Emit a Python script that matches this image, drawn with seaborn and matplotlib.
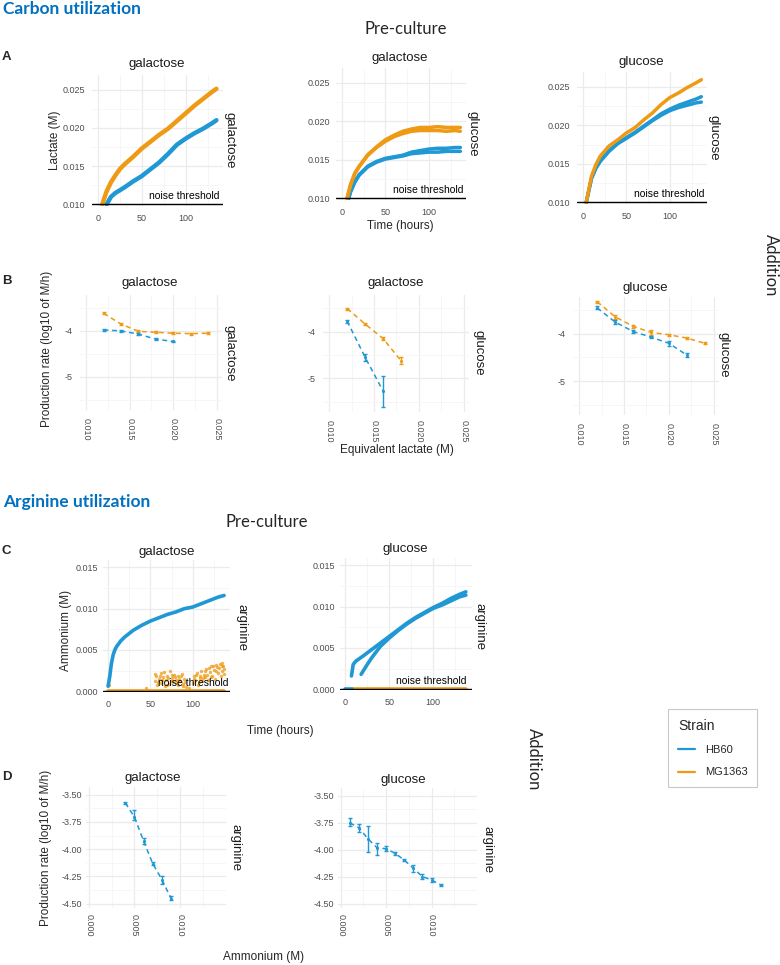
import numpy as np
import pandas as pd
import matplotlib
matplotlib.use("Agg")
import matplotlib.pyplot as plt
import seaborn as sns
from matplotlib.ticker import FixedLocator, FormatStrFormatter
from matplotlib.lines import Line2D

# ---------------- data ----------------
STRAINS = ["HB60", "MG1363"]
BLUE = "#1F98D4"
ORANGE = "#EE9A14"
PALETTE = {"HB60": BLUE, "MG1363": ORANGE}

# Panel A1: pre-culture galactose, addition galactose
a1_mg_t = [5, 10, 15, 20, 25, 30, 40, 50, 60, 70, 80, 90, 100, 110, 120, 130, 135]
a1_mg_v = [0.0100, 0.0117, 0.0129, 0.0138, 0.0146, 0.0152, 0.0162, 0.0173, 0.0182, 0.0191,
           0.0199, 0.0209, 0.0219, 0.0229, 0.0238, 0.0247, 0.0251]
a1_hb_t = [10, 15, 20, 30, 40, 50, 60, 70, 80, 90, 100, 110, 120, 130, 135]
a1_hb_v = [0.0100, 0.0110, 0.0115, 0.0122, 0.0130, 0.0137, 0.0146, 0.0155, 0.0166, 0.0178,
           0.0186, 0.0193, 0.0199, 0.0206, 0.0210]

# Panel A2: pre-culture galactose, addition glucose
a2_mg_t = [6, 10, 15, 20, 30, 40, 50, 60, 70, 80, 90, 100, 110, 120, 130, 136]
a2_mg_v1 = [0.0100, 0.0118, 0.0133, 0.0142, 0.0157, 0.0167, 0.0176, 0.0182, 0.0187, 0.0190,
            0.0192, 0.0192, 0.0193, 0.0192, 0.0192, 0.0192]
a2_mg_v2 = [0.0100, 0.0117, 0.0132, 0.0141, 0.0156, 0.0166, 0.0174, 0.0180, 0.0184, 0.0187,
            0.0188, 0.0188, 0.0188, 0.0187, 0.0188, 0.0187]
a2_hb_t = [8, 10, 15, 20, 30, 40, 50, 60, 70, 80, 90, 100, 110, 120, 130, 136]
a2_hb_v1 = [0.0100, 0.0109, 0.0122, 0.0131, 0.0142, 0.0148, 0.0152, 0.0154, 0.0156, 0.0160,
            0.0162, 0.0164, 0.0165, 0.0165, 0.0166, 0.0166]
a2_hb_v2 = [0.0100, 0.0108, 0.0121, 0.0130, 0.0141, 0.0147, 0.0151, 0.0153, 0.0155, 0.0158,
            0.0159, 0.0160, 0.0160, 0.0161, 0.0161, 0.0161]

# Panel A3: pre-culture glucose, addition glucose
a3_t = [4, 10, 15, 20, 30, 40, 50, 60, 70, 80, 90, 100, 110, 120, 130, 136]
a3_mg_v = [0.0100, 0.0134, 0.0149, 0.0160, 0.0173, 0.0181, 0.0190, 0.0197, 0.0207, 0.0216,
           0.0227, 0.0236, 0.0242, 0.0249, 0.0255, 0.0259]
a3_hb_v1 = [0.0100, 0.0131, 0.0144, 0.0153, 0.0166, 0.0176, 0.0183, 0.0190, 0.0198, 0.0206,
            0.0213, 0.0219, 0.0223, 0.0226, 0.0229, 0.0230]
a3_hb_v2 = [0.0100, 0.0131, 0.0145, 0.0154, 0.0167, 0.0177, 0.0184, 0.0191, 0.0199, 0.0207,
            0.0215, 0.0221, 0.0226, 0.0230, 0.0234, 0.0237]

# Panel B: production rate vs equivalent lactate (mean, low, high)
b_x_mg = [0.012, 0.014, 0.016, 0.018, 0.020, 0.022, 0.024]
b_x_hb = [0.012, 0.014, 0.016, 0.018, 0.020, 0.022]
b1_mg_y = [-3.62, -3.85, -4.01, -4.03, -4.05, -4.06, -4.05]
b1_mg_lo = [-3.64, -3.87, -4.03, -4.05, -4.07, -4.08, -4.07]
b1_mg_hi = [-3.60, -3.83, -3.99, -4.01, -4.03, -4.04, -4.03]
b1_hb_y = [-3.98, -4.00, -4.07, -4.18, -4.23]
b1_hb_lo = [-4.00, -4.02, -4.09, -4.20, -4.25]
b1_hb_hi = [-3.96, -3.98, -4.05, -4.16, -4.21]
b2_mg_y = [-3.51, -3.84, -4.15, -4.62]
b2_mg_lo = [-3.53, -3.87, -4.19, -4.70]
b2_mg_hi = [-3.49, -3.81, -4.11, -4.55]
b2_hb_y = [-3.78, -4.55, -5.27]
b2_hb_lo = [-3.81, -4.63, -5.61]
b2_hb_hi = [-3.75, -4.47, -4.96]
b3_mg_y = [-3.32, -3.64, -3.84, -3.97, -4.02, -4.09, -4.20]
b3_mg_lo = [-3.34, -3.68, -3.87, -4.02, -4.04, -4.11, -4.22]
b3_mg_hi = [-3.30, -3.60, -3.81, -3.92, -4.00, -4.07, -4.18]
b3_hb_y = [-3.45, -3.75, -3.95, -4.07, -4.20, -4.45]
b3_hb_lo = [-3.48, -3.79, -3.98, -4.09, -4.25, -4.50]
b3_hb_hi = [-3.42, -3.71, -3.92, -4.05, -4.15, -4.40]

# Panel C1: pre-culture galactose, addition arginine
c1_hb_t = [0, 2, 4, 6, 8, 10, 15, 20, 30, 40, 50, 60, 70, 80, 90, 100, 110, 120, 130, 137]
c1_hb_v = [0.0006, 0.0018, 0.0034, 0.0044, 0.0050, 0.0054, 0.0061, 0.0066, 0.0074, 0.0080,
           0.0085, 0.0089, 0.0093, 0.0096, 0.0100, 0.0102, 0.0106, 0.0110, 0.0114, 0.0116]
c1_mg_line_t = [0, 137]
c1_mg_line_v = [0.0, 0.0]
c1_mg_pts_t = [1, 45, 55, 57, 58, 60, 62, 63, 65, 67, 68, 70, 72, 73, 75, 77, 78, 80, 82, 83,
               85, 87, 88, 90, 92, 96, 100, 101, 103, 105, 106, 108, 110, 111, 113, 115, 116,
               118, 120, 121, 123, 125, 126, 128, 130, 131, 133, 134, 135, 136, 137,
               56, 59, 61, 64, 66, 69, 71, 74, 76, 79, 81, 84, 86, 89, 91, 102, 104, 107, 109,
               112, 114, 117, 119, 122, 124, 127, 129, 132, 135, 137]
c1_mg_pts_v = [0.0008, 0.0004, 0.0012, 0.0018, 0.0008, 0.0015, 0.0022, 0.0010, 0.0017, 0.0006,
               0.0013, 0.0019, 0.0009, 0.0024, 0.0016, 0.0011, 0.0020, 0.0014, 0.0007, 0.0018,
               0.0012, 0.0021, 0.0009, 0.0015, 0.0005, 0.0004, 0.0010, 0.0018, 0.0013, 0.0022,
               0.0008, 0.0016, 0.0025, 0.0012, 0.0020, 0.0017, 0.0027, 0.0014, 0.0023, 0.0030,
               0.0019, 0.0026, 0.0015, 0.0032, 0.0022, 0.0028, 0.0018, 0.0034, 0.0025, 0.0030,
               0.0021,
               0.0021, 0.0011, 0.0019, 0.0014, 0.0023, 0.0008, 0.0016, 0.0012, 0.0020, 0.0017,
               0.0010, 0.0015, 0.0019, 0.0006, 0.0011, 0.0015, 0.0020, 0.0011, 0.0019, 0.0016,
               0.0024, 0.0020, 0.0028, 0.0017, 0.0030, 0.0024, 0.0029, 0.0033, 0.0031, 0.0027]

# Panel C2: pre-culture glucose, addition arginine
c2_hb_t1 = [7, 9, 12, 20, 30, 40, 50, 60, 70, 80, 90, 100, 110, 120, 130, 137]
c2_hb_v1 = [0.0016, 0.0030, 0.0034, 0.0040, 0.0048, 0.0056, 0.0064, 0.0072, 0.0080, 0.0087,
            0.0093, 0.0099, 0.0104, 0.0110, 0.0115, 0.0118]
c2_hb_t2 = [18, 25, 30, 40, 50, 60, 70, 80, 90, 100, 110, 120, 130, 137]
c2_hb_v2 = [0.0018, 0.0030, 0.0038, 0.0052, 0.0062, 0.0071, 0.0079, 0.0086, 0.0092, 0.0098,
            0.0102, 0.0107, 0.0112, 0.0114]
c2_hb_zero_t = [0, 8]
c2_hb_zero_v = [0.0, 0.0]
c2_mg_line_t = [8, 137]
c2_mg_line_v = [0.0, 0.0]

# Panel D: production rate vs ammonium (HB60 only)
d1_x = [0.004, 0.005, 0.006, 0.007, 0.008, 0.009]
d1_y = [-3.576, -3.707, -3.927, -4.134, -4.280, -4.454]
d1_lo = [-3.588, -3.732, -3.951, -4.149, -4.317, -4.470]
d1_hi = [-3.564, -3.640, -3.896, -4.119, -4.250, -4.433]
d2_x = [0.001, 0.002, 0.003, 0.004, 0.005, 0.006, 0.007, 0.008, 0.009, 0.010, 0.011]
d2_y = [-3.752, -3.798, -3.900, -3.983, -3.992, -4.035, -4.097, -4.174, -4.250, -4.280, -4.328]
d2_lo = [-3.783, -3.835, -4.023, -4.054, -4.017, -4.054, -4.109, -4.208, -4.275, -4.300, -4.337]
d2_hi = [-3.706, -3.762, -3.783, -3.943, -3.968, -4.020, -4.085, -4.146, -4.229, -4.260, -4.318]

# ---------------- figure ----------------
sns.set_theme(style="white")
plt.rcParams["font.family"] = ["Liberation Sans", "DejaVu Sans"]
plt.rcParams["axes.unicode_minus"] = False

W, H = 780, 965
fig = plt.figure(figsize=(W / 100, H / 100), dpi=100)
fig.patch.set_facecolor("white")


def px_box(l, t, r, b):
    return [l / W, 1 - b / H, (r - l) / W, (b - t) / H]


def ftext(x, y, s, **kw):
    fig.text(x / W, 1 - y / H, s, **kw)


def series(strain, rep, t, v):
    return pd.DataFrame({"time": t, "value": v, "strain": strain, "rep": rep})


def style(ax, xlim, ylim, xmaj, xmin, ymaj, ymin, xfmt, yfmt, xrot=0, xpad=6, ypad=4):
    ax.set_xlim(xlim)
    ax.set_ylim(ylim)
    ax.xaxis.set_major_locator(FixedLocator(xmaj))
    ax.xaxis.set_minor_locator(FixedLocator(xmin))
    ax.yaxis.set_major_locator(FixedLocator(ymaj))
    ax.yaxis.set_minor_locator(FixedLocator(ymin))
    ax.xaxis.set_major_formatter(FormatStrFormatter(xfmt))
    ax.yaxis.set_major_formatter(FormatStrFormatter(yfmt))
    ax.grid(True, which="major", color="#EBEBEB", lw=0.9)
    ax.grid(True, which="minor", color="#F5F5F5", lw=0.6)
    ax.set_axisbelow(True)
    for s in ax.spines.values():
        s.set_visible(False)
    ax.set_facecolor("white")
    ax.tick_params(which="both", length=0, labelsize=6.5, labelcolor="#4D4D4D")
    ax.tick_params(axis="x", pad=xpad, labelrotation=xrot)
    ax.tick_params(axis="y", pad=ypad)
    ax.set_xlabel("")
    ax.set_ylabel("")


def noise(ax, y, xfrac):
    ax.axhline(y, color="black", lw=1.0, zorder=4)
    ax.annotate("noise threshold", xy=(xfrac, y), xycoords=("axes fraction", "data"),
                xytext=(0, 3.6), textcoords="offset points", ha="right", va="baseline",
                fontsize=7.5, color="black", zorder=5)


def strips(top_xy, right_xy, top_lab, right_lab):
    ftext(top_xy[0], top_xy[1], top_lab, ha="center", va="center", fontsize=9.5, color="#1A1A1A")
    ftext(right_xy[0], right_xy[1], right_lab, ha="center", va="center", fontsize=9.5,
          color="#1A1A1A", rotation=-90)


A_X = dict(xlim=(-6.6, 142.5), xmaj=[0, 50, 100], xmin=[25, 75, 125], xfmt="%d")
A_Y = dict(ylim=(0.0098, 0.0269), ymaj=[0.010, 0.015, 0.020, 0.025],
           ymin=[0.0125, 0.0175, 0.0225], yfmt="%.3f")

# ---- Panel A ----
a_panels = [
    ((92, 75, 223, 206),
     [series("HB60", "hb1", a1_hb_t, a1_hb_v), series("MG1363", "mg1", a1_mg_t, a1_mg_v)],
     (157, 64), (230, 140), "galactose", "galactose", 0.97, 5),
    ((336, 68, 466, 200),
     [series("HB60", "hb1", a2_hb_t, a2_hb_v1), series("HB60", "hb2", a2_hb_t, a2_hb_v2),
      series("MG1363", "mg1", a2_mg_t, a2_mg_v1), series("MG1363", "mg2", a2_mg_t, a2_mg_v2)],
     (400, 58), (473, 134), "galactose", "glucose", 0.977, 4.5),
    ((577, 72, 707, 204),
     [series("HB60", "hb1", a3_t, a3_hb_v1), series("HB60", "hb2", a3_t, a3_hb_v2),
      series("MG1363", "mg1", a3_t, a3_mg_v)],
     (641, 62), (713, 138), "glucose", "glucose", 0.977, 5),
]
for box, parts, top_xy, right_xy, tl, rl, nx, yp in a_panels:
    ax = fig.add_axes(px_box(*box))
    df = pd.concat(parts, ignore_index=True)
    lw = 3.2 if df["rep"].nunique() <= 2 else 2.5
    sns.lineplot(data=df, x="time", y="value", hue="strain", units="rep", estimator=None,
                 palette=PALETTE, hue_order=STRAINS, lw=lw, legend=False, sort=False, ax=ax,
                 solid_capstyle="round")
    style(ax, A_X["xlim"], A_Y["ylim"], A_X["xmaj"], A_X["xmin"], A_Y["ymaj"], A_Y["ymin"],
          A_X["xfmt"], A_Y["yfmt"], xpad=6, ypad=yp)
    noise(ax, 0.010, nx)
    strips(top_xy, right_xy, tl, rl)

# ---- Panel B ----
B_LIM = dict(xlim=(0.0093, 0.0256), ylim=(-5.72, -3.22))
b_panels = [
    ((80, 295, 222, 410), (b_x_hb[:5], b1_hb_y, b1_hb_lo, b1_hb_hi),
     (b_x_mg, b1_mg_y, b1_mg_lo, b1_mg_hi), (150, 283), (230, 353), "galactose", "galactose"),
    ((323, 295, 469, 412), (b_x_hb[:3], b2_hb_y, b2_hb_lo, b2_hb_hi),
     (b_x_mg[:4], b2_mg_y, b2_mg_lo, b2_mg_hi), (396, 283), (478, 353), "galactose", "glucose"),
    ((573, 297, 719, 415), (b_x_hb, b3_hb_y, b3_hb_lo, b3_hb_hi),
     (b_x_mg, b3_mg_y, b3_mg_lo, b3_mg_hi), (645, 288), (723, 355), "glucose", "glucose"),
]


def rate_plot(ax, x, y, lo, hi, color):
    sns.lineplot(x=x, y=y, color=color, lw=1.1, linestyle=(0, (3.2, 2.4)), errorbar=None,
                 legend=False, ax=ax)
    yv = np.asarray(y)
    ax.errorbar(x, y, yerr=[yv - np.asarray(lo), np.asarray(hi) - yv], fmt="none",
                ecolor=color, elinewidth=1.0, capsize=1.6, capthick=1.0, zorder=3)
    sns.scatterplot(x=x, y=y, color=color, s=5, linewidth=0, legend=False, ax=ax, zorder=3)


for box, hb, mg, top_xy, right_xy, tl, rl in b_panels:
    ax = fig.add_axes(px_box(*box))
    rate_plot(ax, *mg, ORANGE)
    rate_plot(ax, *hb, BLUE)
    style(ax, B_LIM["xlim"], B_LIM["ylim"], [0.010, 0.015, 0.020, 0.025],
          [0.0125, 0.0175, 0.0225], [-4, -5], [-3.5, -4.5, -5.5], "%.3f", "%g",
          xrot=-90, xpad=5.5, ypad=5.5)
    strips(top_xy, right_xy, tl, rl)

# ---- Panel C ----
C_LIM = dict(xlim=(-6.0, 144.0), ylim=(-0.0001, 0.0159))
c_panels = [
    ((103, 560, 230, 692),
     [series("HB60", "hb1", c1_hb_t, c1_hb_v), series("MG1363", "mg0", c1_mg_line_t, c1_mg_line_v)],
     (c1_mg_pts_t, c1_mg_pts_v), (167, 552), (242, 628), "galactose", "arginine", 0.99),
    ((340, 558, 472, 690),
     [series("HB60", "hb1", c2_hb_t1, c2_hb_v1), series("HB60", "hb2", c2_hb_t2, c2_hb_v2),
      series("HB60", "hb0", c2_hb_zero_t, c2_hb_zero_v),
      series("MG1363", "mg0", c2_mg_line_t, c2_mg_line_v)],
     None, (405, 549), (479, 627), "glucose", "arginine", 0.96),
]
for box, parts, pts, top_xy, right_xy, tl, rl, nx in c_panels:
    ax = fig.add_axes(px_box(*box))
    df = pd.concat(parts, ignore_index=True)
    sns.lineplot(data=df, x="time", y="value", hue="strain", units="rep", estimator=None,
                 palette=PALETTE, hue_order=["MG1363", "HB60"], lw=2.6, legend=False,
                 sort=False, ax=ax)
    if pts is not None:
        sns.scatterplot(x=pts[0], y=pts[1], color=ORANGE, s=6, alpha=0.75, linewidth=0,
                        legend=False, ax=ax)
    style(ax, C_LIM["xlim"], C_LIM["ylim"], [0, 50, 100], [25, 75, 125],
          [0.000, 0.005, 0.010, 0.015], [0.0025, 0.0075, 0.0125], "%d", "%.3f",
          xpad=6, ypad=3.4)
    noise(ax, 0.0, nx)
    strips(top_xy, right_xy, tl, rl)

# ---- Panel D ----
D_LIM = dict(xlim=(-0.0003, 0.0150), ylim=(-4.54, -3.43))
d_panels = [
    ((86, 787, 226, 908), (d1_x, d1_y, d1_lo, d1_hi), (153, 778), (235, 848), "galactose"),
    ((338, 788, 477, 908), (d2_x, d2_y, d2_lo, d2_hi), (403, 780), (487, 850), "glucose"),
]
for box, hb, top_xy, right_xy, tl in d_panels:
    ax = fig.add_axes(px_box(*box))
    rate_plot(ax, *hb, BLUE)
    style(ax, D_LIM["xlim"], D_LIM["ylim"], [0.000, 0.005, 0.010], [0.0025, 0.0075, 0.0125],
          [-3.50, -3.75, -4.00, -4.25, -4.50],
          [-3.625, -3.875, -4.125, -4.375], "%.3f", "%.2f", xrot=-90, xpad=4, ypad=2.5)
    strips(top_xy, right_xy, tl, "arginine")

# ---- titles / labels ----
CAL = ["Lato", "DejaVu Sans"]
ftext(3, 9, "Carbon utilization", ha="left", va="center", fontsize=12.5, fontweight="bold",
      color="#0070C0", family=CAL)
ftext(3, 502, "Arginine utilization", ha="left", va="center", fontsize=12.5,
      fontweight="bold", color="#0070C0", family=CAL)
ftext(406, 29, "Pre-culture", ha="center", va="center", fontsize=12, family=CAL)
ftext(267, 522, "Pre-culture", ha="center", va="center", fontsize=12, family=CAL)
ftext(771, 265, "Addition", ha="center", va="center", fontsize=12, rotation=-90, family=CAL)
ftext(534, 759, "Addition", ha="center", va="center", fontsize=12, rotation=-90, family=CAL)

for lab, y in [("A", 57), ("B", 281), ("C", 551), ("D", 777)]:
    ftext(2, y, lab, ha="left", va="center", fontsize=9.5, fontweight="bold")

ftext(55, 140, "Lactate (M)", ha="center", va="center", fontsize=8.5, rotation=90)
ftext(400, 226, "Time (hours)", ha="center", va="center", fontsize=8.5)
ftext(47, 349, "Production rate (log10 of M/h)", ha="center", va="center", fontsize=8.5,
      rotation=90)
ftext(397, 450, "Equivalent lactate (M)", ha="center", va="center", fontsize=8.5)
ftext(66, 630, "Ammonium (M)", ha="center", va="center", fontsize=8.5, rotation=90)
ftext(280, 731, "Time (hours)", ha="center", va="center", fontsize=8.5)
ftext(46, 848, "Production rate (log10 of M/h)", ha="center", va="center", fontsize=8.5,
      rotation=90)
ftext(264, 957, "Ammonium (M)", ha="center", va="center", fontsize=8.5)

# ---- legend ----
handles = [Line2D([], [], color=PALETTE[s], lw=1.6) for s in STRAINS]
leg = fig.legend(handles, STRAINS, title="Strain", loc="upper left",
                 bbox_to_anchor=(668 / W, 1 - 709 / H), frameon=True, fancybox=False,
                 edgecolor="#BBBBBB", fontsize=8, title_fontsize=10, handlelength=1.5,
                 labelspacing=1.1, borderpad=0.9, handletextpad=0.9, borderaxespad=0)
leg._legend_box.align = "left"
leg.get_frame().set_linewidth(0.8)

fig.savefig("out.png", dpi=100, facecolor="white")
